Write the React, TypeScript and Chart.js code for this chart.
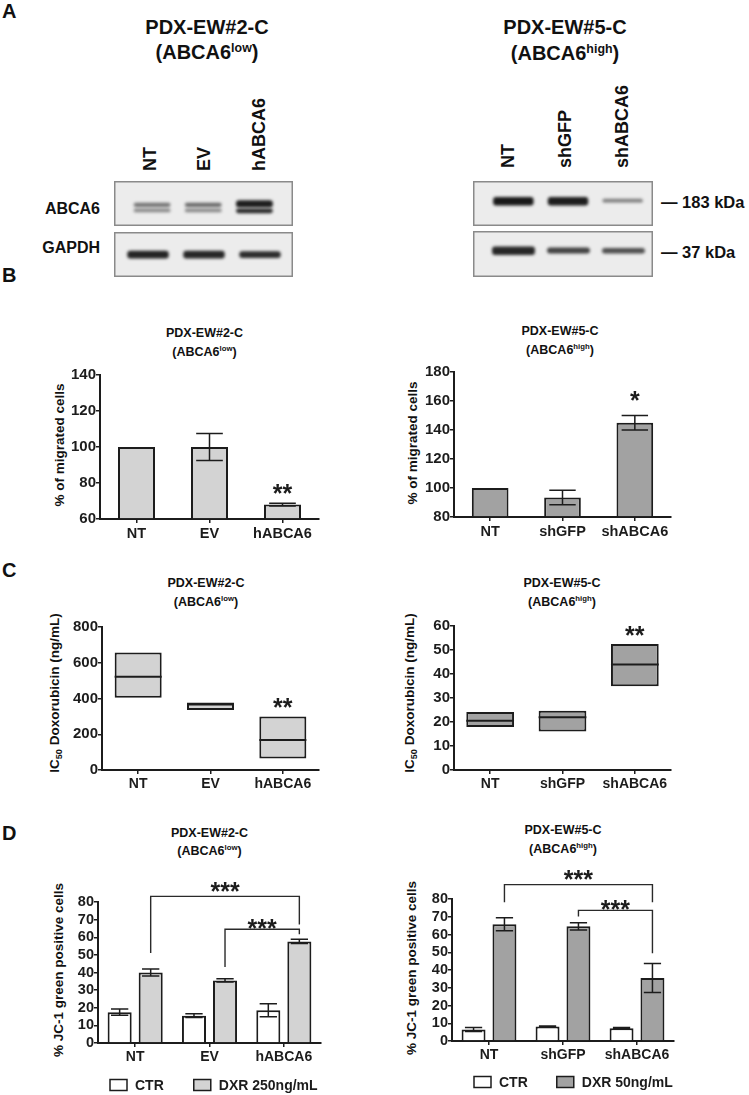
import React, { useEffect, useRef } from "react";
import { Chart, registerables } from "chart.js";

Chart.register(...registerables);

const FONT = "'Liberation Sans', Arial, Helvetica, sans-serif";
Chart.defaults.font.family = FONT;
Chart.defaults.color = "#1a1a1a";

// ---------------- DATA ----------------
// Panel A: western blot bands (position inside strip in px-units from top, and intensity)
const lanesL = ["NT", "EV", "hABCA6"];
const lanesR = ["NT", "shGFP", "shABCA6"];
const abca6UpperL = [[21.7, 25.9], [21.7, 25.9], [19.2, 26.5]];
const abca6UpperAlphaL = [0.55, 0.6, 0.95];
const abca6LowerL = [[27.6, 31.3], [27.6, 31.3], [27.4, 32.3]];
const abca6LowerAlphaL = [0.45, 0.45, 0.9];
const gapdhL = [[18.8, 26.4], [18.8, 26.4], [19.2, 26.0]];
const gapdhAlphaL = [0.92, 0.9, 0.88];
const abca6R = [[16.0, 24.6], [16.0, 24.6], [17.8, 21.6]];
const abca6AlphaR = [0.97, 0.95, 0.5];
const gapdhR = [[15.6, 24.0], [16.6, 22.4], [17.0, 22.4]];
const gapdhAlphaR = [0.9, 0.78, 0.72];

// Panel B: % of migrated cells
const catsB1 = ["NT", "EV", "hABCA6"];
const migB1 = [100, 100, 68];
const migErrB1 = [0, 7.5, 0.8];
const yAxisB1 = [60, 140, 20];
const catsB2 = ["NT", "shGFP", "shABCA6"];
const migB2 = [100, 93.5, 145];
const migErrB2 = [0, 5, 5];
const yAxisB2 = [80, 180, 20];

// Panel C: IC50 Doxorubicin (ng/mL) floating boxes [min, max] + median
const icRangeC1 = [[404, 658], [336, 378], [64, 299]];
const icMedC1 = [521, 366, 168];
const yAxisC1 = [0, 800, 200];
const icRangeC2 = [[17.9, 24.2], [16.0, 24.7], [34.9, 52.5]];
const icMedC2 = [20.5, 22.0, 44.0];
const yAxisC2 = [0, 60, 10];

// Panel D: % JC-1 green positive cells
const jcCtrD1 = [17.5, 15.5, 18.6];
const jcCtrErrD1 = [1.8, 1.1, 3.7];
const jcDxrD1 = [40.0, 35.5, 57.6];
const jcDxrErrD1 = [2.0, 0.9, 1.2];
const jcCtrD2 = [6.5, 8.1, 7.2];
const jcCtrErrD2 = [1.1, 0.3, 0.35];
const jcDxrD2 = [65.8, 64.6, 35.5];
const jcDxrErrD2 = [3.7, 2.0, 8.2];
const yAxisD = [0, 80, 10];
const legendD1 = ["CTR", "DXR 250ng/mL"];
const legendD2 = ["CTR", "DXR 50ng/mL"];

// significance marks
const starsB1 = [{ cat: 2, ds: 0, value: 77.8, text: "**" }];
const starsB2 = [{ cat: 2, ds: 0, value: 164.8, text: "*" }];
const starsC1 = [{ cat: 2, ds: 0, value: 383, text: "**" }];
const starsC2 = [{ cat: 2, ds: 0, value: 58.7, text: "**" }];
const bracketsD1 = [
  { from: [0, 1], to: [2, 1], yFrom: 51.1, yTop: 83.2, yTo: 67.3, text: "***", textValue: 89.5 },
  { from: [1, 1], to: [2, 1], yFrom: 43.1, yTop: 64.5, yTo: 61.7, text: "***", textValue: 68.7 },
];
const bracketsD2 = [
  { from: [0, 1], to: [2, 1], yFrom: 78.1, yTop: 88.1, yTo: 78.1, text: "***", textValue: 94.3 },
  { from: [1, 1], to: [2, 1], yFrom: 70.2, yTop: 73.6, yTo: 49.5, text: "***", textValue: 77.7 },
];

// ---------------- STYLE ----------------
const INK = "#1c1c1c";
const LIGHT = "#d3d3d3";
const DARK = "#a2a2a2";
const BLOT_BG = "#ececec";

type Geo = { x: number; y: number; w: number; h: number };
type Area = { l: number; r: number; t: number; b: number };

function geom(a: Area, c: Geo) {
  return { padT: a.t - c.y, yW: a.l - c.x, padR: c.x + c.w - a.r, xH: c.y + c.h - a.b };
}

function drawStar(ctx: any, text: string, x: number, yc: number) {
  const size = 25;
  ctx.save();
  ctx.fillStyle = INK;
  ctx.font = `bold ${size}px ${FONT}`;
  ctx.textAlign = "center";
  ctx.textBaseline = "alphabetic";
  ctx.fillText(text, x, yc + size * 0.585);
  ctx.restore();
}

function annot(cfg: any) {
  return {
    id: "annot",
    afterDatasetsDraw(chart: any) {
      const ctx = chart.ctx;
      const ys = chart.scales.y;
      ctx.save();
      ctx.strokeStyle = INK;
      ctx.lineWidth = 1.5;
      // medians
      if (cfg.medians) {
        const meta = chart.getDatasetMeta(0);
        meta.data.forEach((el: any, i: number) => {
          const y = ys.getPixelForValue(cfg.medians[i]);
          ctx.lineWidth = 2;
          ctx.beginPath();
          ctx.moveTo(el.x - el.width / 2, y);
          ctx.lineTo(el.x + el.width / 2, y);
          ctx.stroke();
        });
      }
      // error bars
      ctx.lineWidth = 1.5;
      (cfg.errors || []).forEach((errs: number[] | null, ds: number) => {
        if (!errs) return;
        const meta = chart.getDatasetMeta(ds);
        const vals = chart.data.datasets[ds].data;
        meta.data.forEach((el: any, i: number) => {
          const e = errs[i];
          if (!e) return;
          const v = vals[i];
          const hw = el.width * 0.36;
          const yT = ys.getPixelForValue(v + e);
          const yB = ys.getPixelForValue(v - e);
          ctx.beginPath();
          ctx.moveTo(el.x, yB);
          ctx.lineTo(el.x, yT);
          ctx.moveTo(el.x - hw, yT);
          ctx.lineTo(el.x + hw, yT);
          ctx.moveTo(el.x - hw, yB);
          ctx.lineTo(el.x + hw, yB);
          ctx.stroke();
        });
      });
      // stars
      (cfg.stars || []).forEach((s: any) => {
        const el = chart.getDatasetMeta(s.ds).data[s.cat];
        drawStar(ctx, s.text, el.x, ys.getPixelForValue(s.value));
      });
      // brackets
      ctx.strokeStyle = "#2a2a2a";
      ctx.lineWidth = 1.4;
      (cfg.brackets || []).forEach((b: any) => {
        const ea = chart.getDatasetMeta(b.from[1]).data[b.from[0]];
        const eb = chart.getDatasetMeta(b.to[1]).data[b.to[0]];
        const yt = ys.getPixelForValue(b.yTop);
        ctx.beginPath();
        ctx.moveTo(ea.x, ys.getPixelForValue(b.yFrom));
        ctx.lineTo(ea.x, yt);
        ctx.lineTo(eb.x, yt);
        ctx.lineTo(eb.x, ys.getPixelForValue(b.yTo));
        ctx.stroke();
        drawStar(ctx, b.text, (ea.x + eb.x) / 2, ys.getPixelForValue(b.textValue));
      });
      // legend
      if (cfg.legend) {
        const L = cfg.legend;
        let x = chart.chartArea.left + L.dx;
        const yc = chart.chartArea.bottom + L.dy;
        ctx.font = `bold 14px ${FONT}`;
        ctx.textBaseline = "middle";
        ctx.textAlign = "left";
        chart.data.datasets.forEach((d: any) => {
          ctx.fillStyle = d.backgroundColor;
          ctx.fillRect(x, yc - 5.5, 17, 11);
          ctx.strokeStyle = INK;
          ctx.lineWidth = 1.5;
          ctx.strokeRect(x, yc - 5.5, 17, 11);
          ctx.fillStyle = INK;
          ctx.fillText(d.label, x + 25, yc + 1);
          x += 25 + ctx.measureText(d.label).width + L.gap;
        });
      }
      ctx.restore();
    },
  };
}

function axisConfig(o: any) {
  const g = geom(o.area, o.canvas);
  return {
    type: "bar",
    data: { labels: o.labels, datasets: o.datasets },
    options: {
      responsive: false,
      animation: false,
      events: [],
      layout: { padding: { top: g.padT, right: g.padR, left: 0, bottom: 0 } },
      plugins: { legend: { display: false }, tooltip: { enabled: false } },
      scales: {
        x: {
          type: "category",
          offset: true,
          grid: { display: true, drawOnChartArea: false, drawTicks: true, tickLength: 4, offset: false, color: INK, lineWidth: 1.5 },
          border: { display: true, color: INK, width: 2 },
          ticks: { font: { size: o.catSize, weight: "bold" }, color: INK, padding: 2, autoSkip: false, maxRotation: 0 },
          afterFit: (s: any) => { s.height = g.xH; },
        },
        y: {
          type: "linear",
          min: o.yAxis[0],
          max: o.yAxis[1],
          grid: { display: true, drawOnChartArea: false, drawTicks: true, tickLength: 4, color: INK, lineWidth: 1.5 },
          border: { display: true, color: INK, width: 2 },
          ticks: { stepSize: o.yAxis[2], autoSkip: false, font: { size: o.tickSize, weight: "bold" }, color: INK, padding: 0 },
          afterFit: (s: any) => { s.width = g.yW; },
        },
      },
    },
    plugins: [annot(o.annot || {})],
  };
}

function blotPlugin() {
  return {
    id: "blot",
    beforeDraw(chart: any) {
      const { ctx, width, height } = chart;
      ctx.save();
      ctx.fillStyle = BLOT_BG;
      ctx.fillRect(0, 0, width, height);
      ctx.strokeStyle = "#8a8a8a";
      ctx.lineWidth = 1.5;
      ctx.strokeRect(0.75, 0.75, width - 1.5, height - 1.5);
      ctx.restore();
    },
    beforeDatasetsDraw(chart: any) {
      chart.ctx.save();
      chart.ctx.filter = "blur(1.4px)";
    },
    afterDatasetsDraw(chart: any) {
      chart.ctx.restore();
    },
  };
}

function blotConfig(canvas: Geo, laneL: number, laneR: number, labels: string[], bands: any[]) {
  return {
    type: "bar",
    data: {
      labels,
      datasets: bands.map((b) => ({
        data: b.data,
        backgroundColor: b.alpha.map((a: number) => `rgba(18,18,18,${a})`),
        borderWidth: 0,
        borderSkipped: false,
        borderRadius: 3,
        barPercentage: b.pct,
        categoryPercentage: 1,
        grouped: false,
      })),
    },
    options: {
      responsive: false,
      animation: false,
      events: [],
      layout: { padding: { left: laneL - canvas.x, right: canvas.x + canvas.w - laneR, top: 0, bottom: 0 } },
      plugins: { legend: { display: false }, tooltip: { enabled: false } },
      scales: {
        x: { type: "category", display: false, offset: true },
        y: { type: "linear", display: false, min: 0, max: canvas.h, reverse: true },
      },
    },
    plugins: [blotPlugin()],
  };
}

function ChartBox({ canvas, make }: { canvas: Geo; make: () => any }) {
  const ref = useRef<HTMLCanvasElement | null>(null);
  useEffect(() => {
    if (!ref.current) return;
    const chart = new Chart(ref.current, make());
    return () => chart.destroy();
  }, []);
  return (
    <canvas
      ref={ref}
      width={canvas.w}
      height={canvas.h}
      style={{ position: "absolute", left: canvas.x, top: canvas.y, width: canvas.w, height: canvas.h }}
    />
  );
}

function Txt({ x, y, size, anchor = "center", rot = false, children }: any) {
  let tf = anchor === "center" ? "translate(-50%,-50%)" : anchor === "right" ? "translate(-100%,-50%)" : "translate(0,-50%)";
  if (rot) tf = "translate(-50%,-50%) rotate(-90deg)";
  return (
    <div style={{ position: "absolute", left: x, top: y, transform: tf, fontSize: size, fontWeight: 700, lineHeight: 1, whiteSpace: "nowrap" }}>
      {children}
    </div>
  );
}

function Lane({ x, y, size, children }: any) {
  return (
    <div style={{ position: "absolute", left: x, top: y, transformOrigin: "0 0", transform: "rotate(-90deg) translateY(-50%)", fontSize: size, fontWeight: 700, lineHeight: 1, whiteSpace: "nowrap" }}>
      {children}
    </div>
  );
}

const Sup = ({ children }: any) => <span style={{ fontSize: "0.62em", position: "relative", top: "-0.6em" }}>{children}</span>;
const Sub = ({ children }: any) => <span style={{ fontSize: "0.68em", position: "relative", top: "0.3em" }}>{children}</span>;

function Title({ x, y1, y2, size, name, level }: any) {
  return (
    <>
      <Txt x={x} y={y1} size={size}>{name}</Txt>
      <Txt x={x} y={y2} size={size}>(ABCA6<Sup>{level}</Sup>)</Txt>
    </>
  );
}

// chart geometries
const cB1 = { x: 0, y: 360, w: 335, h: 190 };
const aB1 = { l: 100, r: 319, t: 375, b: 519 };
const cB2 = { x: 375, y: 357, w: 374, h: 190 };
const aB2 = { l: 454, r: 671, t: 372, b: 517 };
const cC1 = { x: 0, y: 612, w: 335, h: 185 };
const aC1 = { l: 102, r: 319, t: 627, b: 770 };
const cC2 = { x: 375, y: 611, w: 374, h: 186 };
const aC2 = { l: 454, r: 671, t: 626, b: 770 };
const cD1 = { x: 0, y: 868, w: 340, h: 227 };
const aD1 = { l: 98, r: 321, t: 902, b: 1043 };
const cD2 = { x: 375, y: 865, w: 374, h: 230 };
const aD2 = { l: 452, r: 674, t: 899, b: 1041 };

const blotLT = { x: 114, y: 181, w: 179, h: 45 };
const blotLB = { x: 114, y: 232, w: 179, h: 45 };
const blotRT = { x: 473, y: 181, w: 180, h: 45 };
const blotRB = { x: 473, y: 231, w: 180, h: 46 };

const barDs = (data: number[], color: string, pct: number, base: number) => ({
  data,
  backgroundColor: color,
  borderColor: INK,
  borderWidth: 2,
  barPercentage: pct,
  categoryPercentage: 1,
  base,
});

const boxDs = (data: number[][], color: string, pct: number) => ({
  data,
  backgroundColor: color,
  borderColor: INK,
  borderWidth: 2,
  borderSkipped: false,
  barPercentage: pct,
  categoryPercentage: 1,
});

const groupDs = (label: string, data: number[], color: string) => ({
  label,
  data,
  backgroundColor: color,
  borderColor: INK,
  borderWidth: 2,
  barPercentage: 0.775,
  categoryPercentage: 0.835,
});

export default function App() {
  return (
    <div style={{ position: "absolute", left: 0, top: 0, width: 749, height: 1095, background: "#fff", overflow: "hidden", fontFamily: FONT, color: "#111" }}>
      {/* Panel letters */}
      <Txt x={2} y={11} size={20} anchor="left">A</Txt>
      <Txt x={2} y={275} size={20} anchor="left">B</Txt>
      <Txt x={2} y={570} size={20} anchor="left">C</Txt>
      <Txt x={2} y={833} size={20} anchor="left">D</Txt>

      {/* Panel A */}
      <Title x={207} y1={27} y2={52} size={20} name="PDX-EW#2-C" level="low" />
      <Title x={565} y1={27} y2={53} size={20} name="PDX-EW#5-C" level="high" />
      {lanesL.map((l, i) => (
        <Lane key={l} x={[150, 204, 259][i]} y={171} size={18}>{l}</Lane>
      ))}
      {lanesR.map((l, i) => (
        <Lane key={l} x={[508, 565, 622][i]} y={168} size={18}>{l}</Lane>
      ))}
      <Txt x={100} y={209} size={16} anchor="right">ABCA6</Txt>
      <Txt x={100} y={248} size={16} anchor="right">GAPDH</Txt>
      <Txt x={661} y={202} size={16.5} anchor="left">— 183 kDa</Txt>
      <Txt x={661} y={252} size={16.5} anchor="left">— 37 kDa</Txt>
      <ChartBox canvas={blotLT} make={() => blotConfig(blotLT, 126.5, 280, lanesL, [
        { data: abca6UpperL, alpha: abca6UpperAlphaL, pct: 0.72 },
        { data: abca6LowerL, alpha: abca6LowerAlphaL, pct: 0.72 },
      ])} />
      <ChartBox canvas={blotLB} make={() => blotConfig(blotLB, 120, 288, lanesL, [
        { data: gapdhL, alpha: gapdhAlphaL, pct: 0.74 },
      ])} />
      <ChartBox canvas={blotRT} make={() => blotConfig(blotRT, 486, 650, lanesR, [
        { data: abca6R, alpha: abca6AlphaR, pct: 0.74 },
      ])} />
      <ChartBox canvas={blotRB} make={() => blotConfig(blotRB, 486, 651, lanesR, [
        { data: gapdhR, alpha: gapdhAlphaR, pct: 0.78 },
      ])} />

      {/* Panel B */}
      <Title x={204.5} y1={333} y2={352} size={12.5} name="PDX-EW#2-C" level="low" />
      <Title x={560} y1={331} y2={350} size={12.5} name="PDX-EW#5-C" level="high" />
      <Txt x={60} y={445} size={13.5} rot>% of migrated cells</Txt>
      <Txt x={413} y={443} size={13.5} rot>% of migrated cells</Txt>
      <ChartBox canvas={cB1} make={() => axisConfig({
        area: aB1, canvas: cB1, labels: catsB1, yAxis: yAxisB1, tickSize: 15, catSize: 14.5,
        datasets: [barDs(migB1, LIGHT, 0.507, yAxisB1[0])],
        annot: { errors: [migErrB1], stars: starsB1 },
      })} />
      <ChartBox canvas={cB2} make={() => axisConfig({
        area: aB2, canvas: cB2, labels: catsB2, yAxis: yAxisB2, tickSize: 15, catSize: 14.5,
        datasets: [barDs(migB2, DARK, 0.507, yAxisB2[0])],
        annot: { errors: [migErrB2], stars: starsB2 },
      })} />

      {/* Panel C */}
      <Title x={206} y1={583} y2={602} size={12.5} name="PDX-EW#2-C" level="low" />
      <Title x={562} y1={583} y2={602} size={12.5} name="PDX-EW#5-C" level="high" />
      <Txt x={55} y={693} size={13.5} rot>IC<Sub>50</Sub> Doxorubicin (ng/mL)</Txt>
      <Txt x={410} y={693} size={13.5} rot>IC<Sub>50</Sub> Doxorubicin (ng/mL)</Txt>
      <ChartBox canvas={cC1} make={() => axisConfig({
        area: aC1, canvas: cC1, labels: catsB1, yAxis: yAxisC1, tickSize: 15, catSize: 14,
        datasets: [boxDs(icRangeC1, LIGHT, 0.65)],
        annot: { medians: icMedC1, stars: starsC1 },
      })} />
      <ChartBox canvas={cC2} make={() => axisConfig({
        area: aC2, canvas: cC2, labels: catsB2, yAxis: yAxisC2, tickSize: 15, catSize: 14,
        datasets: [boxDs(icRangeC2, DARK, 0.66)],
        annot: { medians: icMedC2, stars: starsC2 },
      })} />

      {/* Panel D */}
      <Title x={209.5} y1={833} y2={851} size={12.5} name="PDX-EW#2-C" level="low" />
      <Title x={563} y1={830} y2={849} size={12.5} name="PDX-EW#5-C" level="high" />
      <Txt x={59} y={970} size={13.5} rot>% JC-1 green positive cells</Txt>
      <Txt x={412} y={968} size={13.5} rot>% JC-1 green positive cells</Txt>
      <ChartBox canvas={cD1} make={() => axisConfig({
        area: aD1, canvas: cD1, labels: catsB1, yAxis: yAxisD, tickSize: 14.5, catSize: 14,
        datasets: [groupDs(legendD1[0], jcCtrD1, "#ffffff"), groupDs(legendD1[1], jcDxrD1, LIGHT)],
        annot: { errors: [jcCtrErrD1, jcDxrErrD1], brackets: bracketsD1, legend: { dx: 12, dy: 42, gap: 30 } },
      })} />
      <ChartBox canvas={cD2} make={() => axisConfig({
        area: aD2, canvas: cD2, labels: catsB2, yAxis: yAxisD, tickSize: 14.5, catSize: 14,
        datasets: [groupDs(legendD2[0], jcCtrD2, "#ffffff"), groupDs(legendD2[1], jcDxrD2, DARK)],
        annot: { errors: [jcCtrErrD2, jcDxrErrD2], brackets: bracketsD2, legend: { dx: 22, dy: 41, gap: 29 } },
      })} />
    </div>
  );
}
